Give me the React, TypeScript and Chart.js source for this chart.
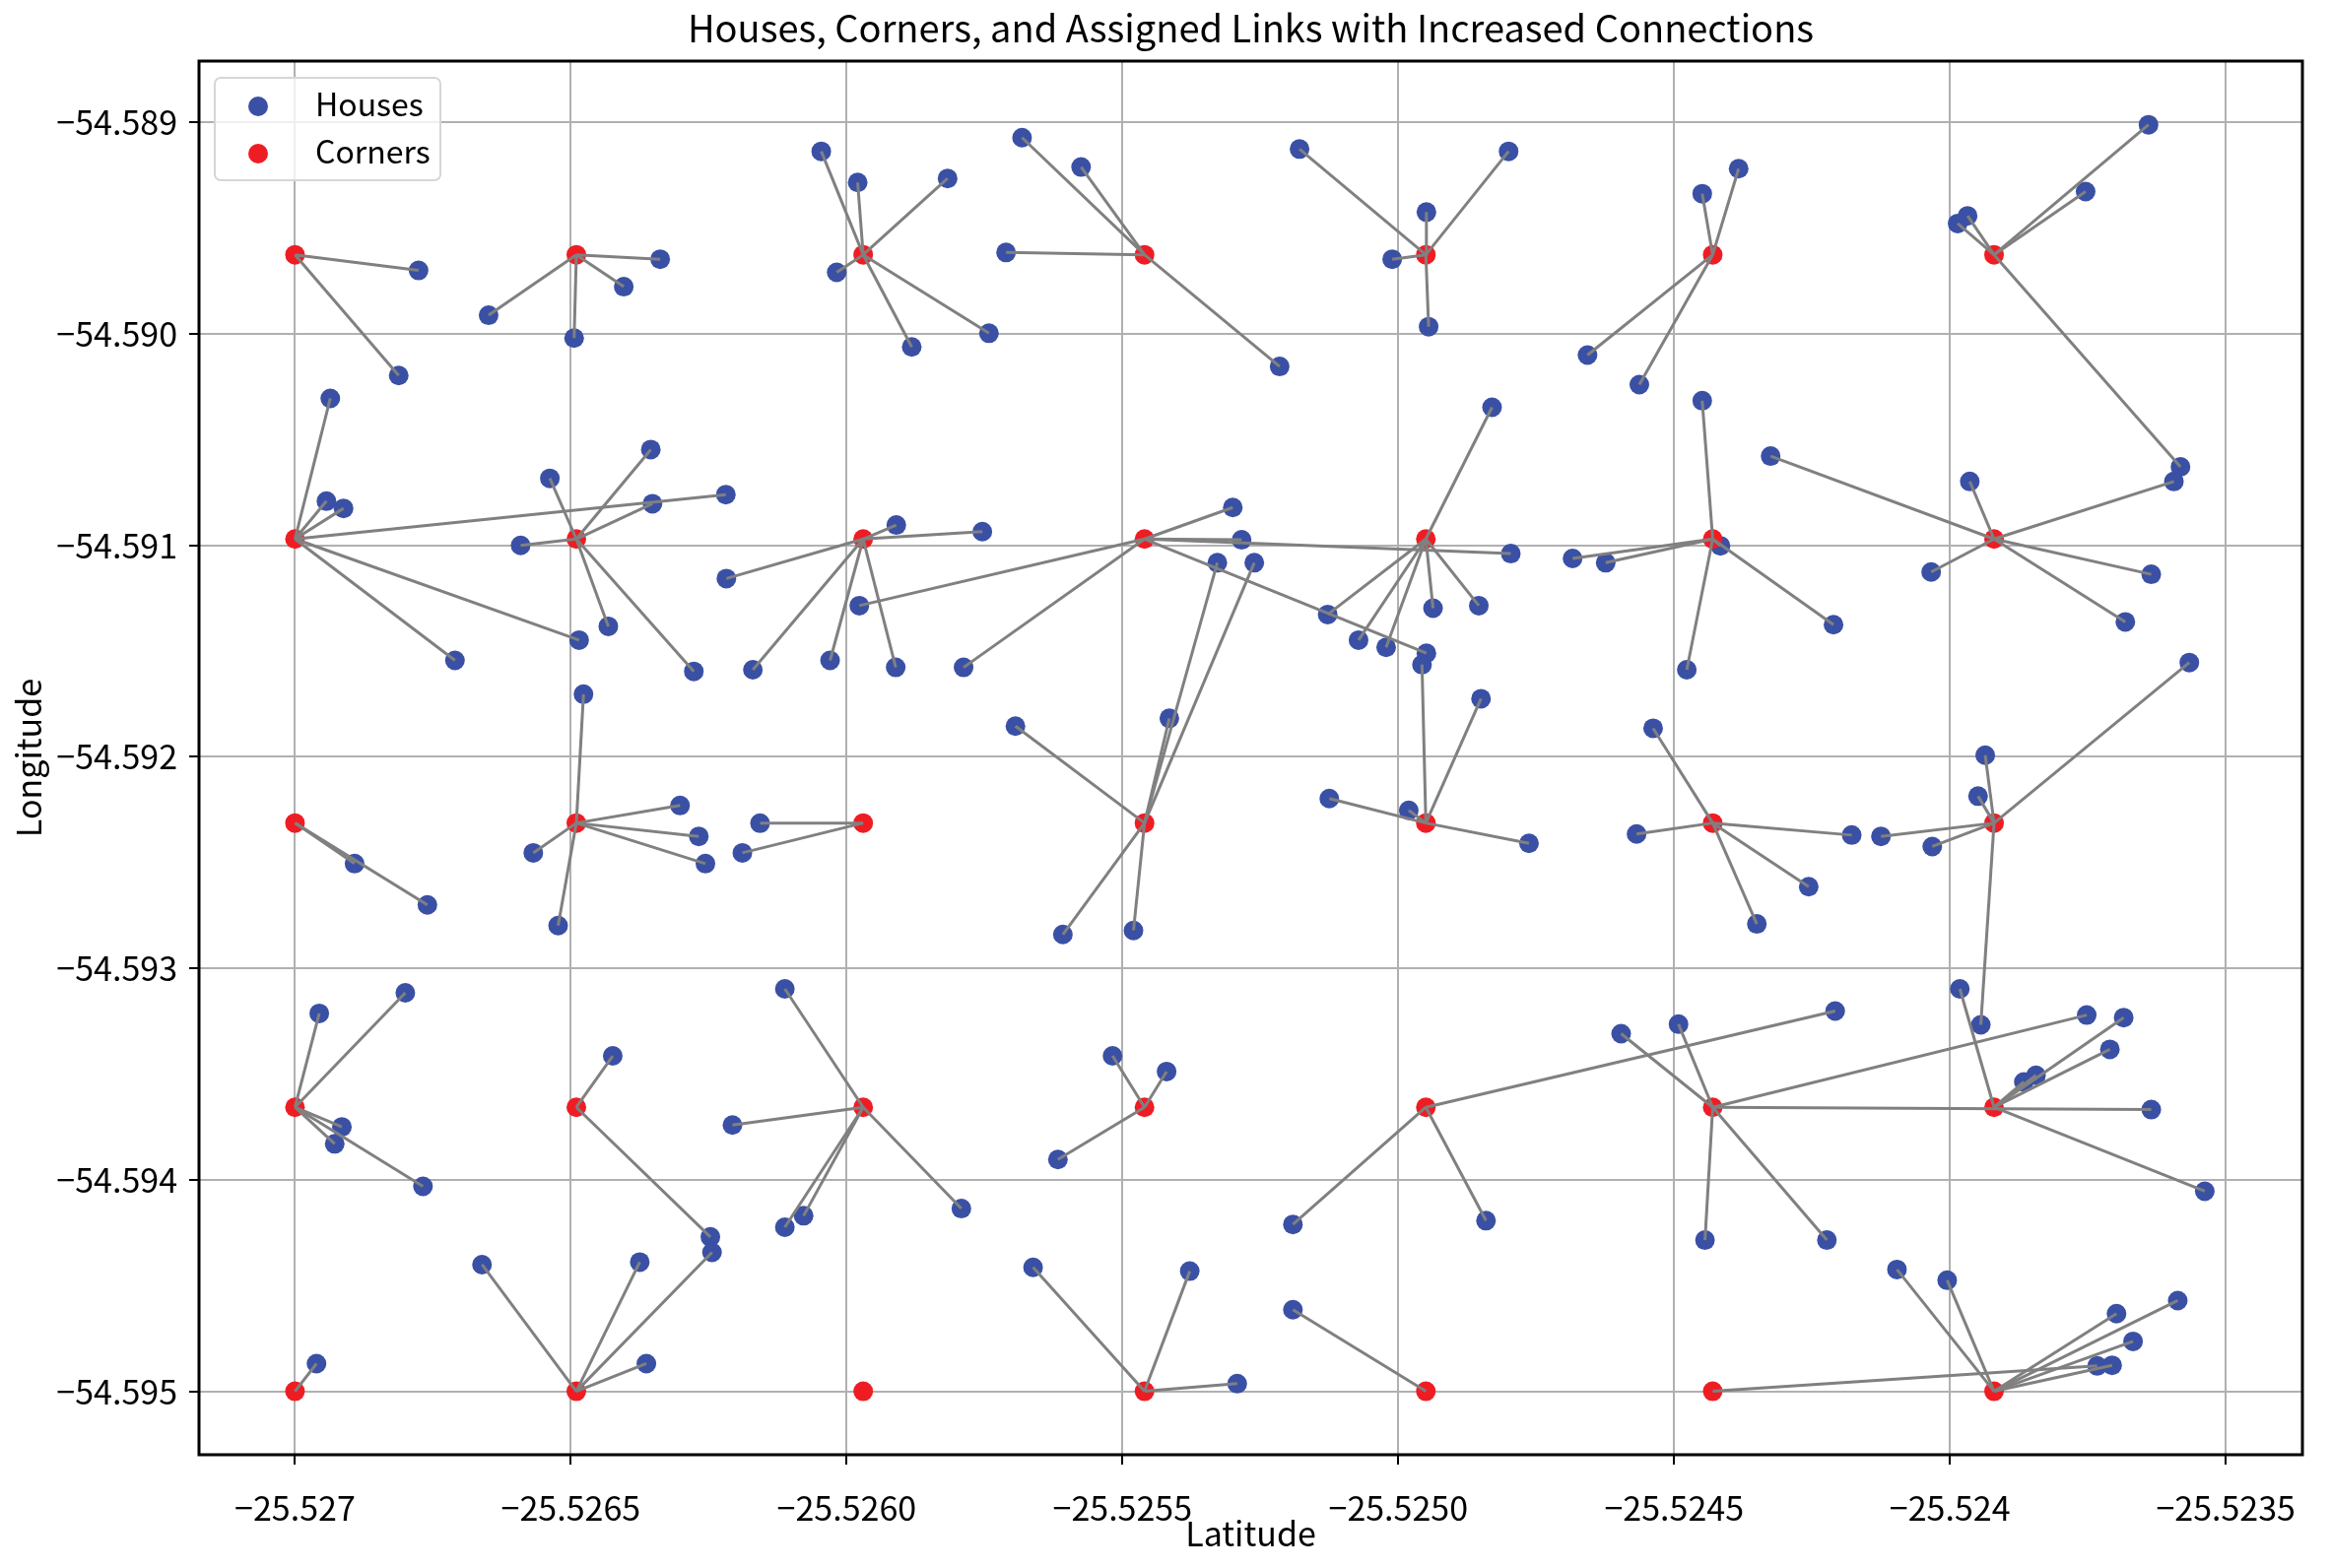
import React, { useEffect, useRef } from 'react';
import { Chart, registerables } from 'chart.js';

Chart.register(...registerables);

const TITLE = 'Houses, Corners, and Assigned Links with Increased Connections';
const X_LABEL = 'Latitude';
const Y_LABEL = 'Longitude';
const LEGEND_LABELS = ['Houses', 'Corners'];

const xTickValues = [-25.527, -25.5265, -25.526, -25.5255, -25.525, -25.5245, -25.524, -25.5235];
const xTickLabels = ['\u221225.527', '\u221225.5265', '\u221225.5260', '\u221225.5255', '\u221225.5250', '\u221225.5245', '\u221225.524', '\u221225.5235'];
const yTickValues = [-54.589, -54.59, -54.591, -54.592, -54.593, -54.594, -54.595];
const yTickLabels = ['\u221254.589', '\u221254.590', '\u221254.591', '\u221254.592', '\u221254.593', '\u221254.594', '\u221254.595'];

// corner grid (columns by latitude, rows by longitude)
const cornerLat = [-25.527, -25.52649, -25.52597, -25.52546, -25.52495, -25.52443, -25.52392];
const cornerLon = [-54.589626, -54.59097, -54.592313, -54.593657, -54.595];

const houseLat = [
  -25.526776, -25.526812, -25.526649, -25.526338, -25.526404, -25.526494, -25.526046, -25.52598, -25.525817, -25.526018,
  -25.525882, -25.525742, -25.525682, -25.525575, -25.525711, -25.525215, -25.525179, -25.5248, -25.524949, -25.525011,
  -25.524945, -25.524449, -25.524383, -25.524657, -25.524563, -25.52364, -25.523754, -25.523968, -25.523986, -25.523582,
  -25.526936, -25.526943, -25.526912, -25.526219, -25.52671, -25.526485, -25.526538, -25.526355, -25.526352, -25.526591,
  -25.526432, -25.526277, -25.52591, -25.525754, -25.526218, -25.52617, -25.52603, -25.525911, -25.525977, -25.525788,
  -25.5253, -25.525284, -25.524949, -25.524796, -25.52483, -25.524937, -25.524854, -25.525128, -25.525072, -25.525022,
  -25.524449, -25.524684, -25.524624, -25.524416, -25.524477, -25.524211, -25.524325, -25.523594, -25.523964, -25.524034,
  -25.523635, -25.523682,
  -25.526892, -25.52676, -25.526477, -25.526302, -25.526268, -25.526256, -25.526568, -25.526523, -25.526157, -25.526189,
  -25.525694, -25.525415, -25.525328, -25.525261, -25.525608, -25.52548, -25.524957, -25.52485, -25.525125, -25.524981,
  -25.524763, -25.524538, -25.524568, -25.52435, -25.524178, -25.524256, -25.523566, -25.523936, -25.523949, -25.524125,
  -25.524032, -25.523944,
  -25.5268, -25.526956, -25.526915, -25.526928, -25.526768, -25.526424, -25.526247, -25.526112, -25.526207, -25.526112,
  -25.526078, -25.525792, -25.525518, -25.52542, -25.525617, -25.525191, -25.524841, -25.524208, -25.524596, -25.524492,
  -25.524444, -25.523752, -25.523635, -25.524223, -25.523982, -25.523685, -25.52371, -25.523844, -25.523866, -25.523538,
  -25.526961, -25.526244, -25.526661, -25.526375, -25.526363, -25.525662, -25.525378, -25.525292, -25.525191, -25.523733,
  -25.524096, -25.524005, -25.523587, -25.523698, -25.523668, -25.523706,
];

const houseLon = [
  -54.5897, -54.590197, -54.589912, -54.589647, -54.589777, -54.59002, -54.589137, -54.589284, -54.589265, -54.589709,
  -54.590062, -54.589997, -54.589072, -54.589211, -54.589615, -54.590154, -54.589126, -54.589137, -54.589424, -54.589647,
  -54.589966, -54.589337, -54.589219, -54.5901, -54.59024, -54.589011, -54.589327, -54.589442, -54.589478, -54.590629,
  -54.590305, -54.590791, -54.590825, -54.59076, -54.591544, -54.591448, -54.590683, -54.590547, -54.590803, -54.591,
  -54.591383, -54.591596, -54.590904, -54.590935, -54.591157, -54.591588, -54.591544, -54.591577, -54.591285, -54.591577,
  -54.590821, -54.590974, -54.59151, -54.591039, -54.590347, -54.591297, -54.591285, -54.591327, -54.591448, -54.591482,
  -54.590316, -54.591062, -54.591082, -54.591002, -54.591588, -54.591375, -54.590578, -54.590698, -54.590698, -54.591126,
  -54.591137, -54.591362,
  -54.592505, -54.5927, -54.591704, -54.59223, -54.592376, -54.592505, -54.592454, -54.592798, -54.592314, -54.592454,
  -54.591855, -54.591818, -54.591082, -54.591082, -54.59284, -54.592821, -54.591564, -54.591725, -54.592197, -54.592253,
  -54.592409, -54.591865, -54.592365, -54.59279, -54.59237, -54.592614, -54.591554, -54.591992, -54.592186, -54.592376,
  -54.592424, -54.593267,
  -54.593116, -54.593213, -54.59375, -54.59383, -54.594031, -54.593414, -54.59427, -54.593097, -54.593741, -54.594224,
  -54.59417, -54.594136, -54.593414, -54.593488, -54.593904, -54.594211, -54.594193, -54.593202, -54.593309, -54.593264,
  -54.594285, -54.593221, -54.593668, -54.594285, -54.593097, -54.593233, -54.593383, -54.593506, -54.593537, -54.594054,
  -54.594869, -54.594343, -54.594401, -54.594389, -54.594869, -54.594414, -54.594432, -54.594964, -54.594614, -54.59488,
  -54.594424, -54.594475, -54.594571, -54.594633, -54.594764, -54.594877,
];

// assigned corner of each house (column index into cornerLat, row index into cornerLon)
const linkCol = [
  0, 0, 1, 1, 1, 1, 2, 2, 2, 2, 2, 2, 3, 3, 3, 3, 4, 4, 4, 4, 4, 5, 5, 5, 5, 6, 6, 6, 6, 6,
  0, 0, 0, 0, 0, 0, 1, 1, 1, 1, 1, 1, 2, 2, 2, 2, 2, 2, 3, 3, 3, 3, 3, 3, 4, 4, 4, 4, 4, 4, 5, 5, 5, 5, 5, 5, 6, 6, 6, 6, 6, 6,
  0, 0, 1, 1, 1, 1, 1, 1, 2, 2, 3, 3, 3, 3, 3, 3, 4, 4, 4, 4, 4, 5, 5, 5, 5, 5, 6, 6, 6, 6, 6, 6,
  0, 0, 0, 0, 0, 1, 1, 2, 2, 2, 2, 2, 3, 3, 3, 4, 4, 4, 5, 5, 5, 5, 5, 5, 6, 6, 6, 6, 6, 6,
  0, 1, 1, 1, 1, 3, 3, 3, 4, 5, 6, 6, 6, 6, 6, 6,
];
const linkRow = [
  0, 0, 0, 0, 0, 0, 0, 0, 0, 0, 0, 0, 0, 0, 0, 0, 0, 0, 0, 0, 0, 0, 0, 0, 0, 0, 0, 0, 0, 0,
  1, 1, 1, 1, 1, 1, 1, 1, 1, 1, 1, 1, 1, 1, 1, 1, 1, 1, 1, 1, 1, 1, 1, 1, 1, 1, 1, 1, 1, 1, 1, 1, 1, 1, 1, 1, 1, 1, 1, 1, 1, 1,
  2, 2, 2, 2, 2, 2, 2, 2, 2, 2, 2, 2, 2, 2, 2, 2, 2, 2, 2, 2, 2, 2, 2, 2, 2, 2, 2, 2, 2, 2, 2, 2,
  3, 3, 3, 3, 3, 3, 3, 3, 3, 3, 3, 3, 3, 3, 3, 3, 3, 3, 3, 3, 3, 3, 3, 3, 3, 3, 3, 3, 3, 3,
  4, 4, 4, 4, 4, 4, 4, 4, 4, 4, 4, 4, 4, 4, 4, 4,
];

const X_MIN = -25.527174;
const X_MAX = -25.523361;
const Y_MIN = -54.5953;
const Y_MAX = -54.58871;

const HOUSE_COLOR = '#3A50A4';
const CORNER_COLOR = '#EE1D24';
const LINK_COLOR = '#808080';
const FONT = "'Noto Sans CJK SC', 'Noto Sans', sans-serif";
const FS = 34;
const LEGEND_FS = 32;
const TITLE_FS = 38;

const framePlugin = {
  id: 'frameLegendTitle',
  afterDraw(chart: any) {
    const { ctx, chartArea } = chart;
    const { left, top, right, bottom } = chartArea;
    ctx.save();
    // title centred over the plot area
    ctx.fillStyle = '#000';
    ctx.font = `${TITLE_FS}px ${FONT}`;
    ctx.textAlign = 'center';
    ctx.textBaseline = 'middle';
    ctx.fillText(TITLE, (left + right) / 2, 29);
    // legend box
    const bx = left + 16;
    const by = top + 17;
    const bw = 229;
    const bh = 104;
    ctx.beginPath();
    if (ctx.roundRect) ctx.roundRect(bx, by, bw, bh, 6);
    else ctx.rect(bx, by, bw, bh);
    ctx.fillStyle = 'rgba(255,255,255,0.8)';
    ctx.fill();
    ctx.strokeStyle = '#d6d6d6';
    ctx.lineWidth = 2;
    ctx.stroke();
    const colors = [HOUSE_COLOR, CORNER_COLOR];
    const rowsY = [by + 29, by + 77];
    LEGEND_LABELS.forEach((lab, i) => {
      ctx.beginPath();
      ctx.arc(bx + 44, rowsY[i], 10, 0, Math.PI * 2);
      ctx.fillStyle = colors[i];
      ctx.fill();
      ctx.fillStyle = '#000';
      ctx.font = `${LEGEND_FS}px ${FONT}`;
      ctx.textAlign = 'left';
      ctx.textBaseline = 'middle';
      ctx.fillText(lab, bx + 102, rowsY[i] - 2);
    });
    // frame
    ctx.strokeStyle = '#000';
    ctx.lineWidth = 3;
    ctx.strokeRect(left, top, right - left, bottom - top);
    ctx.restore();
  },
};

export default function App() {
  const canvasRef = useRef<HTMLCanvasElement | null>(null);

  useEffect(() => {
    const canvas = canvasRef.current;
    if (!canvas) return;

    const corners: { x: number; y: number }[] = [];
    cornerLon.forEach((lon) => cornerLat.forEach((lat) => corners.push({ x: lat, y: lon })));
    const houses = houseLat.map((lat, i) => ({ x: lat, y: houseLon[i] }));

    const linkSets = houses.map((h, i) => ({
      type: 'scatter' as const,
      label: 'link',
      data: [{ x: cornerLat[linkCol[i]], y: cornerLon[linkRow[i]] }, h],
      showLine: true,
      borderColor: LINK_COLOR,
      borderWidth: 3,
      pointRadius: 0,
      pointHoverRadius: 0,
      fill: false,
      order: 0,
    }));

    const chart = new Chart(canvas, {
      type: 'scatter',
      data: {
        datasets: [
          ...linkSets,
          {
            label: 'Corners',
            data: corners,
            backgroundColor: CORNER_COLOR,
            borderWidth: 0,
            pointRadius: 10,
            order: 1,
          },
          {
            label: 'Houses',
            data: houses,
            backgroundColor: HOUSE_COLOR,
            borderWidth: 0,
            pointRadius: 10,
            order: 2,
          },
        ] as any,
      },
      options: {
        responsive: false,
        animation: false,
        devicePixelRatio: 1,
        events: [],
        layout: { padding: { left: 0, right: 28, top: 62, bottom: 0 } },
        plugins: {
          legend: { display: false },
          tooltip: { enabled: false },
          title: { display: false },
        },
        scales: {
          x: {
            type: 'linear',
            min: X_MIN,
            max: X_MAX,
            afterBuildTicks: (scale: any) => {
              scale.ticks = xTickValues.map((v) => ({ value: v }));
            },
            afterFit: (scale: any) => {
              scale.height = 115;
            },
            ticks: {
              color: '#000',
              font: { family: FONT, size: FS, lineHeight: 1.2 },
              padding: 24,
              maxRotation: 0,
              autoSkip: false,
              callback: (_v: any, i: number) => xTickLabels[i],
            },
            grid: {
              color: '#b0b0b0',
              lineWidth: 2,
              drawTicks: true,
              tickLength: 10,
              tickColor: '#000',
              tickWidth: 2,
            },
            border: { display: false },
            title: {
              display: true,
              text: X_LABEL,
              color: '#000',
              font: { family: FONT, size: FS, lineHeight: 1.2 },
              padding: { top: 0, bottom: 15 },
            },
          },
          y: {
            type: 'linear',
            min: Y_MIN,
            max: Y_MAX,
            afterBuildTicks: (scale: any) => {
              scale.ticks = yTickValues.map((v) => ({ value: v }));
            },
            afterFit: (scale: any) => {
              scale.width = 202;
            },
            ticks: {
              color: '#000',
              font: { family: FONT, size: FS, lineHeight: 1.2 },
              padding: 12,
              autoSkip: false,
              callback: (_v: any, i: number) => yTickLabels[i],
            },
            grid: {
              color: '#b0b0b0',
              lineWidth: 2,
              drawTicks: true,
              tickLength: 10,
              tickColor: '#000',
              tickWidth: 2,
            },
            border: { display: false },
            title: {
              display: true,
              text: Y_LABEL,
              color: '#000',
              font: { family: FONT, size: FS, lineHeight: 1.2 },
              padding: { top: 9, bottom: 0 },
            },
          },
        },
      } as any,
      plugins: [framePlugin],
    });

    return () => chart.destroy();
  }, []);

  return (
    <div style={{ position: 'absolute', left: 0, top: 0, width: 2365, height: 1592, background: '#fff' }}>
      <canvas ref={canvasRef} width={2365} height={1592} style={{ display: 'block' }} />
    </div>
  );
}
